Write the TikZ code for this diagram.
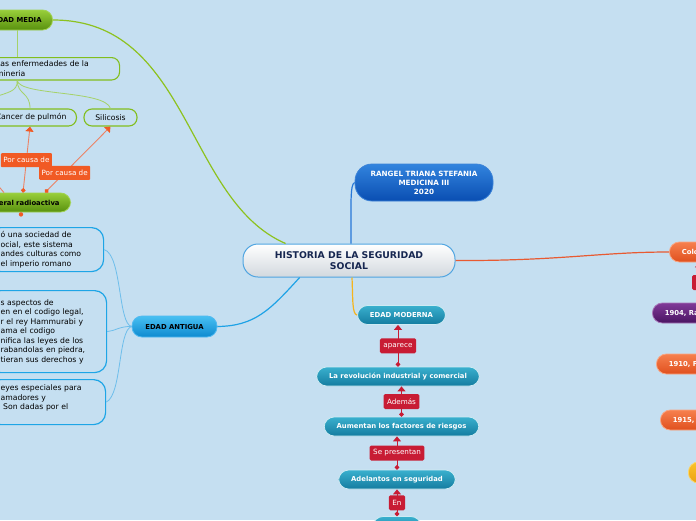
\documentclass[tikz,border=0pt]{standalone}
\usepackage{fontspec}
\setmainfont{DejaVu Sans}
\usetikzlibrary{arrows.meta,calc}

\definecolor{bgblue}{RGB}{197,223,241}
\definecolor{histgrey}{RGB}{210,216,222}
\definecolor{histborder}{RGB}{80,165,225}
\definecolor{histtext}{RGB}{22,38,80}
\definecolor{authortop}{RGB}{50,132,222}
\definecolor{authorbot}{RGB}{10,78,178}
\definecolor{authorborder}{RGB}{60,130,215}
\definecolor{authorline}{RGB}{40,120,215}
\definecolor{mediatop}{RGB}{152,206,58}
\definecolor{mediabot}{RGB}{88,145,14}
\definecolor{mediaborder}{RGB}{160,210,80}
\definecolor{medialine}{RGB}{141,194,31}
\definecolor{twiggreen}{RGB}{165,210,105}
\definecolor{noteborder}{RGB}{130,190,30}
\definecolor{causeorange}{RGB}{241,90,36}
\definecolor{causeline}{RGB}{236,130,100}
\definecolor{boxblue}{RGB}{30,165,230}
\definecolor{twigblue}{RGB}{110,190,235}
\definecolor{antiguatop}{RGB}{72,192,242}
\definecolor{antiguabot}{RGB}{14,138,208}
\definecolor{antiguaborder}{RGB}{80,185,240}
\definecolor{antigualine}{RGB}{30,162,230}
\definecolor{flowtop}{RGB}{58,176,206}
\definecolor{flowbot}{RGB}{20,124,160}
\definecolor{linkred}{RGB}{200,28,52}
\definecolor{modernaline}{RGB}{245,180,30}
\definecolor{colotop}{RGB}{246,128,78}
\definecolor{colobot}{RGB}{224,80,30}
\definecolor{cololine}{RGB}{232,90,50}
\definecolor{purpletop}{RGB}{128,58,152}
\definecolor{purplebot}{RGB}{74,20,98}
\definecolor{goldtop}{RGB}{250,196,42}
\definecolor{goldbot}{RGB}{236,160,18}

\begin{document}
\begin{tikzpicture}[
    x=1pt, y=-1pt,
    every node/.style={font=\fontsize{7.7}{9.5}\selectfont},
    topic/.style={draw=histborder, line width=1pt, rounded corners=15pt, top color=white, bottom color=histgrey,
        minimum width=212pt, minimum height=33pt, inner ysep=0pt, align=center, text=histtext,
        font=\fontsize{9.3}{11}\selectfont\bfseries},
    author/.style={draw=authorborder, line width=0.8pt, rounded corners=17pt, top color=authortop, bottom color=authorbot,
        minimum width=138pt, minimum height=37pt, inner ysep=0pt, align=center, text=white,
        font=\fontsize{7.2}{9}\selectfont\bfseries},
    pill/.style={rounded corners=10pt, line width=0.8pt, minimum height=20pt, inner xsep=11pt, inner ysep=0pt,
        font=\fontsize{6.85}{8.5}\selectfont\bfseries},
    greenpill/.style={pill, draw=mediaborder, top color=mediatop, bottom color=mediabot, text=black},
    bluepill/.style={pill, draw=antiguaborder, top color=antiguatop, bottom color=antiguabot, text=black,
        minimum width=85pt, minimum height=21pt},
    flowbox/.style={pill, draw=white!75!flowtop, top color=flowtop, bottom color=flowbot, text=white,
        inner xsep=12.5pt, minimum height=19pt},
    yearpill/.style={pill, text=white, inner xsep=12.5pt, text width=40pt, align=left},
    notebox/.style={draw=noteborder, line width=1.1pt, rounded corners=8pt, inner xsep=10pt, inner ysep=3.5pt,
        minimum height=17pt, align=left},
    textbox/.style={draw=boxblue, line width=1.2pt, rounded corners=12pt, inner xsep=12pt, align=left, anchor=north west},
    causelabel/.style={fill=causeorange, text=white, font=\fontsize{7.2}{8.5}\selectfont, inner xsep=2.5pt,
        inner ysep=0pt, minimum height=14pt, rounded corners=1pt},
    linklabel/.style={fill=linkred, text=white, font=\fontsize{7.2}{8.5}\selectfont, inner xsep=3.5pt,
        inner ysep=0pt, minimum height=15pt, rounded corners=1.5pt},
    flowlink/.style={draw=linkred, line width=1pt, {Circle[length=4.5pt]}-{Triangle[length=5pt, width=8pt]}},
    causelink/.style={draw=causeline, line width=0.9pt,
        {Circle[length=4.5pt, color=causeorange]}-{Triangle[length=5pt, width=8pt, color=causeorange]}},
    twigline/.style={line width=0.8pt},
]

\def\W{696} \def\H{520}

% Canvas
\useasboundingbox (0,0) rectangle (\W,\H);
\fill[bgblue] (0,0) rectangle (\W,\H);
\clip (0,0) rectangle (\W,\H);

% Central topic and author
\node[topic] (hist) at (349,260.5) {HISTORIA DE LA SEGURIDAD\\SOCIAL};
\node[author] (rangel) at (424,182.5) {RANGEL TRIANA STEFANIA\\MEDICINA III\\2020};

% Edad media branch
\node[greenpill, anchor=east] (media) at (53,20) {EDAD MEDIA};
\node[notebox, text width=113.5pt, anchor=north west, inner ysep=3.5pt] (enf) at (-14.5,57) {Las enfermedades de la\\mineria};
\node[notebox, anchor=east] (cancer) at (77,117.5) {Cancer de pulmón};
\node[notebox, inner xsep=11.3pt] (silicosis) at (110.5,117.5) {Silicosis};
\node[greenpill, anchor=east, minimum height=19pt] (mineral) at (71,202.5) {Mineral radioactiva};
\coordinate (offleft) at (-8,98);
\coordinate (offmineral) at (-5,182);

% Edad antigua branch
\node[bluepill] (antigua) at (174.5,326.5) {EDAD ANTIGUA};
\node[textbox, text width=91pt, minimum height=44pt] (boxa) at (-12,227)
    {ó una sociedad de\\ocial, este sistema\\andes culturas como\\el imperio romano};
\node[textbox, text width=94pt, minimum height=82pt] (boxb) at (-12,290)
    {s aspectos de\\en en el codigo legal,\\r el rey Hammurabi y\\ama el codigo\\nifica las leyes de los\\rabandolas en piedra,\\tieran sus derechos y};
\node[textbox, text width=93pt, minimum height=45pt] (boxc) at (-12,379)
    {eyes especiales para\\amadores y\\\ Son dadas por el\\\mbox{}};

% Edad moderna chain
\node[flowbox] (moderna) at (401.5,315) {EDAD MODERNA};
\node[flowbox] (revol) at (398,376.5) {La revolución industrial y comercial};
\node[flowbox] (aumentan) at (401.5,426.5) {Aumentan los factores de riesgos};
\node[flowbox] (adelantos) at (397,479.5) {Adelantos en seguridad};
\node[flowbox, minimum width=48pt] (siguiente) at (397,526) {};

% Right side timeline
\node[yearpill, draw=colotop!70!white, top color=colotop, bottom color=colobot, anchor=west] (colo) at (669,252) {Colo};
\node[yearpill, draw=purpletop!70!white, top color=purpletop, bottom color=purplebot, anchor=west] (y1904) at (652,313) {1904, Ra};
\node[yearpill, draw=colotop!70!white, top color=colotop, bottom color=colobot, anchor=west] (y1910) at (656,364) {1910, F};
\node[yearpill, draw=colotop!70!white, top color=colotop, bottom color=colobot, anchor=west] (y1915) at (660,420) {1915,};
\node[yearpill, draw=goldtop!70!white, top color=goldtop, bottom color=goldbot, anchor=west, minimum height=21pt] (gold) at (688,472.5) {};

% Main branches
\draw[medialine, line width=1.2pt] (media.east) .. controls (190,20) and (185,200) .. (hist.165);
\draw[antigualine, line width=1.2pt] (hist.199) .. controls (270,310) and (255,326) .. (antigua.east);
\draw[modernaline, line width=1.2pt] (hist.280) .. controls (353,300) and (352,314) .. (moderna.west);
\draw[authorline, line width=1.2pt] (hist.83) .. controls (351,205) and (350,184) .. (rangel.west);
\draw[cololine, line width=1.2pt] (hist.east) .. controls (560,261) and (600,252) .. (colo.west);

% Edad media sub-branches
\draw[twigline, twiggreen] (media.south) -- (media.south |- enf.north);
\draw[twigline, twiggreen] (media.south |- enf.south) .. controls (17.6,95) and (30,92) .. ($(cancer.north east)+(-47,0)$);
\draw[twigline, twiggreen] (media.south |- enf.south) .. controls (20,96) and (105,90) .. (silicosis.north);
\draw[twigline, twiggreen] (media.south |- enf.south) .. controls (17.6,92) and (8,92) .. (offleft);

% Causes
\draw[causelink] ($(mineral.north east)+(-48,0)$) -- node[causelabel, pos=0.49] {Por causa de} ($(cancer.south east)+(-47,0)$);
\draw[causelink] ($(mineral.north east)+(-26,0)$) -- node[causelabel, pos=0.3] {Por causa de} (silicosis.south);
\draw[causeline, line width=0.9pt] ($(mineral.north east)+(-67,0)$) -- (offmineral);
\fill[causeorange] ($(mineral.south east)+(-50,2)$) circle (2.2pt);

% Edad antigua sub-branches
\draw[twigline, twigblue] (antigua.west) .. controls (118,324) and (122,255) .. (boxa.east);
\draw[twigline, twigblue] (antigua.west) .. controls (120,326) and (115,331) .. (boxb.east);
\draw[twigline, twigblue] (antigua.west) .. controls (118,330) and (122,395) .. (boxc.east);

% Edad moderna links
\draw[flowlink] (revol.north) -- node[linklabel] {aparece} (revol.north |- moderna.south);
\draw[flowlink] (aumentan.north) -- node[linklabel] {Además} (aumentan.north |- revol.south);
\draw[flowlink] (adelantos.north) -- node[linklabel] {Se presentan} (adelantos.north |- aumentan.south);
\draw[flowlink] (siguiente.north) -- node[linklabel] {En} (siguiente.north |- adelantos.south);

% Timeline link (mostly off the page)
\draw[flowlink] ($(y1904.north west)+(47,0)$) -- node[linklabel, minimum width=14pt] {} ($(colo.south west)+(30,0)$);

\end{tikzpicture}
\end{document}
